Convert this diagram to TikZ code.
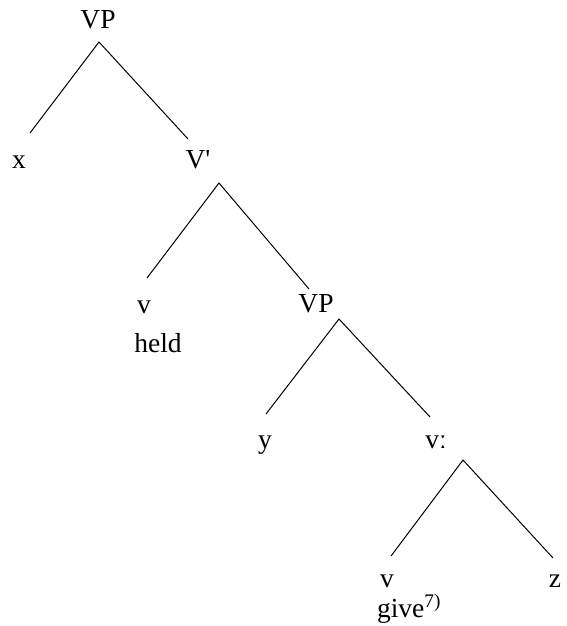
\documentclass[tikz,border=0pt]{standalone}
\usepackage{fontspec}
\setmainfont{Liberation Serif}
\usetikzlibrary{positioning}

\begin{document}
\begin{tikzpicture}[
    x=1pt, y=-1pt,
    font=\fontsize{27.5}{30}\selectfont,
    lbl/.style    ={anchor=base, inner sep=0pt},
    branch/.style ={line width=1pt}
]
\useasboundingbox (0,0) rectangle (566,626);

% Labels of the tree
\node[lbl] (vp)    at (98,29)   {VP};
\node[lbl] (xarg)  at (19,168)  {x};
\node[lbl] (vbar)  at (198,168) {V\textquotesingle};
\node[lbl] (vheld) at (144,313) {v};
\node[lbl] (held)  at (158,352) {held};
\node[lbl] (vpb)   at (316,312) {VP};
\node[lbl] (yarg)  at (265,448) {y};
\node[lbl] (vlen)  at (436,448) {vː};
\node[lbl] (vgive) at (387,587) {v};
\node[lbl] (give)  at (409,617) {give\textsuperscript{7)}};
\node[lbl] (zarg)  at (555,587) {z};

% Branch points
\coordinate (vpapex)   at (99,42);
\coordinate (xtop)     at (30,133);
\coordinate (vbartop)  at (188,139);
\coordinate (vbarapex) at (219,183);
\coordinate (vheldtop) at (147,278);
\coordinate (vpbtop)   at (309,289);
\coordinate (vpbapex)  at (339,319);
\coordinate (ytop)     at (266,414);
\coordinate (vlentop)  at (430,417);
\coordinate (vlenapex) at (463,460);
\coordinate (vgivetop) at (391,556);
\coordinate (ztop)     at (553,558);

% Branches
\draw[branch] (xtop) -- (vpapex) -- (vbartop);
\draw[branch] (vheldtop) -- (vbarapex) -- (vpbtop);
\draw[branch] (ytop) -- (vpbapex) -- (vlentop);
\draw[branch] (vgivetop) -- (vlenapex) -- (ztop);

\end{tikzpicture}
\end{document}
